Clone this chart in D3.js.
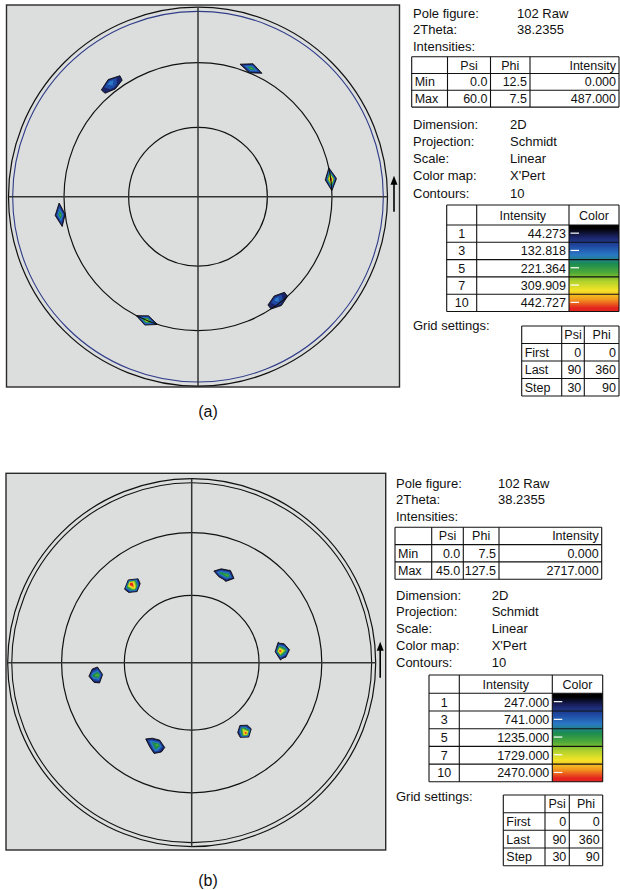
<!DOCTYPE html>
<html>
<head>
<meta charset="utf-8">
<script src="https://cdn.jsdelivr.net/npm/d3@7"></script>
<style>
  body { margin: 0; background: #fff; }
  svg text { font-family: "Liberation Sans", Arial, sans-serif; font-size: 13px; fill: #111; }
  svg text.cell { font-size: 12.5px; }
</style>
</head>
<body>
<svg id="chart" width="620" height="890"></svg>
<script>
// ---------------------------------------------------------------
// Measured pole-figure nodes (psi, phi in degrees, counts)
// ---------------------------------------------------------------
const nodesA_psi = [60, 57.5, 62.5, 60, 60,
                    62.5, 60, 65, 62.5, 62.5,
                    65, 62.5, 65, 65, 62.5, 62.5,
                    62.5, 60, 65, 62.5, 62.5,
                    60, 57.5, 62.5, 60, 60,
                    57.5, 60, 57.5, 57.5, 60, 60];
const nodesA_phi = [7.5, 7.5, 7.5, 2.5, 12.5,
                    67.5, 67.5, 67.5, 62.5, 72.5,
                    127.5, 127.5, 122.5, 132.5, 122.5, 132.5,
                    187.5, 187.5, 187.5, 182.5, 192.5,
                    247.5, 247.5, 247.5, 242.5, 252.5,
                    307.5, 307.5, 302.5, 312.5, 302.5, 312.5];
const nodesA_int = [487, 50, 50, 40, 40,
                    250, 40, 40, 40, 40,
                    175, 120, 35, 35, 35, 35,
                    250, 45, 45, 40, 40,
                    340, 40, 40, 40, 40,
                    165, 120, 35, 35, 35, 35];

const nodesB_psi = [45, 42.5, 45, 45,
                    42.5, 42.5, 40, 45,
                    40, 42.5, 40, 40,
                    42.5, 45, 42.5, 42.5,
                    40, 42.5, 40, 37.5, 40,
                    40, 37.5];
const nodesB_phi = [127.5, 127.5, 122.5, 132.5,
                    67.5, 72.5, 67.5, 67.5,
                    7.5, 7.5, 2.5, 12.5,
                    187.5, 187.5, 182.5, 192.5,
                    247.5, 247.5, 242.5, 247.5, 252.5,
                    307.5, 307.5];
const nodesB_int = [2717, 2000, 200, 200,
                    1450, 1150, 300, 280,
                    2500, 1400, 300, 300,
                    1500, 1150, 220, 220,
                    1400, 1000, 900, 220, 220,
                    2500, 1500];

// Contour levels (ten equal steps of max/11) and legend rows
const maxA = 487, maxB = 2717;
const levelIds = [1, 2, 3, 4, 5, 6, 7, 8, 9, 10];
const legendRows = [1, 3, 5, 7, 10];
const levelColors = ["#000000", "#1c2468", "#1f4aa4", "#2a78c6", "#1b8c50",
                     "#4eaa38", "#b2d22c", "#f4e428", "#f29a1e", "#e3231e"];

// Text panels
const infoLabels = ["Pole figure:", "2Theta:", "Intensities:"];
const infoValues = ["102 Raw", "38.2355"];
const setupLabels = ["Dimension:", "Projection:", "Scale:", "Color map:", "Contours:"];
const setupValues = ["2D", "Schmidt", "Linear", "X'Pert", "10"];
const extremaHeader = ["", "Psi", "Phi", "Intensity"];
const extremaA = [["Min", "0.0", "12.5", "0.000"], ["Max", "60.0", "7.5", "487.000"]];
const extremaB = [["Min", "0.0", "7.5", "0.000"], ["Max", "45.0", "127.5", "2717.000"]];
const gridHeader = ["", "Psi", "Phi"];
const gridRows = [["First", "0", "0"], ["Last", "90", "360"], ["Step", "30", "90"]];
const gridPsi = [30, 60, 90];
const gridPhi = [0, 90];
const edgePsi = 87.5;

// ---------------------------------------------------------------
const svg = d3.select("#chart");
const defs = svg.append("defs");

const PHI_STEP = 5, PHI_FIRST = -12.5;
const nPsi = 37, nPhi = 78;
const psiOfRow = d3.scaleLinear().domain([0, nPsi - 1]).range([0, 90]);
const phiOfCol = d3.scaleLinear().domain([0, nPhi - 1]).range([PHI_FIRST, PHI_FIRST + (nPhi - 1) * PHI_STEP]);

function buildGrid(psis, phis, vals) {
  const grid = new Float64Array(nPsi * nPhi);
  psis.forEach((p, i) => {
    const row = Math.round(psiOfRow.invert(p));
    const col = Math.round(phiOfCol.invert(phis[i]));
    grid[row * nPhi + col] = vals[i];
  });
  return grid;
}

function drawPoleFigure(g, L, psis, phis, vals, step) {
  // Schmidt (equal-area) projection
  const rad = d3.scaleLinear().domain([0, 1]).range([0, L.R]);
  const rOf = psi => rad(Math.SQRT2 * Math.sin(psi * Math.PI / 360));
  const proj = (psi, phi) => {
    const r = rOf(psi), a = phi * Math.PI / 180;
    return [L.cx + r * Math.cos(a), L.cy - r * Math.sin(a)];
  };

  g.append("rect")
    .attr("x", L.frame[0]).attr("y", L.frame[1])
    .attr("width", L.frame[2] - L.frame[0]).attr("height", L.frame[3] - L.frame[1])
    .attr("fill", "#dcdedd").attr("stroke", "#2a2a2a").attr("stroke-width", 1.4);

  // filled contour bands: area above level k takes the colour of the next level up
  const grid = buildGrid(psis, phis, vals);
  const thresholds = levelIds.map(k => k * step);
  const bands = d3.contours().size([nPhi, nPsi]).thresholds(thresholds)(grid);
  const toPx = ([gx, gy]) => proj(psiOfRow(gy - 0.5), phiOfCol(gx - 0.5));
  const line = d3.line();
  bands.forEach((b, i) => {
    const d = b.coordinates.map(poly => poly.map(ring => line(ring.map(toPx)) + "Z").join("")).join("");
    if (!d) return;
    g.append("path").attr("d", d)
      .attr("fill", levelColors[Math.min(i + 1, levelColors.length - 1)])
      .attr("fill-rule", "evenodd")
      .attr("stroke", i === 0 ? "#000" : "none")
      .attr("stroke-width", 0.8)
      .attr("stroke-linejoin", "round");
  });

  // grid circles
  gridPsi.forEach(p => {
    g.append("circle").attr("cx", L.cx).attr("cy", L.cy).attr("r", rOf(p))
      .attr("fill", "none").attr("stroke", "#111").attr("stroke-width", 1.2);
  });
  g.append("circle").attr("cx", L.cx).attr("cy", L.cy).attr("r", rOf(edgePsi))
    .attr("fill", "none").attr("stroke", L.edgeColor).attr("stroke-width", 1.1);

  // grid axes through the centre
  gridPhi.forEach(ph => {
    const p1 = proj(90, ph), p2 = proj(90, ph + 180);
    g.append("line").attr("x1", p1[0]).attr("y1", p1[1]).attr("x2", p2[0]).attr("y2", p2[1])
      .attr("stroke", "#333").attr("stroke-width", 1.5);
  });

  // orientation arrow
  const ax = L.cx + L.R + L.arrowGap;
  g.append("line").attr("x1", ax).attr("x2", ax).attr("y1", L.cy + 15).attr("y2", L.cy - 14)
    .attr("stroke", "#000").attr("stroke-width", 1.6);
  g.append("path")
    .attr("d", `M${ax},${L.cy - 21}L${ax - 3.5},${L.cy - 12}L${ax + 3.5},${L.cy - 12}Z`)
    .attr("fill", "#000");
}

function drawTable(g, cols, rows, cells, align) {
  const x0 = cols[0], x1 = cols[cols.length - 1], y0 = rows[0], y1 = rows[rows.length - 1];
  rows.forEach(y => g.append("line").attr("x1", x0).attr("x2", x1).attr("y1", y).attr("y2", y)
    .attr("stroke", "#111").attr("stroke-width", 1.1));
  cols.forEach(x => g.append("line").attr("x1", x).attr("x2", x).attr("y1", y0).attr("y2", y1)
    .attr("stroke", "#111").attr("stroke-width", 1.1));
  cells.forEach((row, r) => row.forEach((txt, c) => {
    if (!txt) return;
    const a = align[r === 0 ? 0 : 1][c];
    const yb = (rows[r] + rows[r + 1]) / 2 + 4.5;
    let x, anchor;
    if (a === "c") { x = (cols[c] + cols[c + 1]) / 2; anchor = "middle"; }
    else if (a === "r") { x = cols[c + 1] - 3; anchor = "end"; }
    else { x = cols[c] + 3; anchor = "start"; }
    g.append("text").attr("class", "cell").attr("x", x).attr("y", yb)
      .attr("text-anchor", anchor).text(txt);
  }));
}

function drawPanel(g, T, extrema, step) {
  infoLabels.forEach((t, i) => g.append("text").attr("x", T.x).attr("y", T.infoY[i]).text(t));
  infoValues.forEach((t, i) => g.append("text").attr("x", T.infoX).attr("y", T.infoY[i]).text(t));
  drawTable(g, T.extCols, T.extRows, [extremaHeader, ...extrema],
    [["l", "c", "c", "r"], ["l", "r", "r", "r"]]);
  setupLabels.forEach((t, i) => g.append("text").attr("x", T.x).attr("y", T.setupY[i]).text(t));
  setupValues.forEach((t, i) => g.append("text").attr("x", T.setupX).attr("y", T.setupY[i]).text(t));

  // contour legend with the colour map strip
  const lc = T.legCols, lr = T.legRows;
  const gradId = "grad" + T.id;
  const grad = defs.append("linearGradient").attr("id", gradId)
    .attr("x1", 0).attr("x2", 0).attr("y1", 0).attr("y2", 1);
  const stripPos = d3.scaleLinear().domain([0, levelColors.length - 1]).range([0.04, 0.96]);
  levelColors.forEach((c, i) => grad.append("stop").attr("offset", stripPos(i)).attr("stop-color", c));
  g.append("rect").attr("x", lc[2]).attr("y", lr[1]).attr("width", lc[3] - lc[2])
    .attr("height", lr[lr.length - 1] - lr[1]).attr("fill", `url(#${gradId})`);
  const legendCells = [["", "Intensity", "Color"],
    ...legendRows.map(k => [String(k), (k * step).toFixed(3), ""])];
  drawTable(g, lc, lr, legendCells, [["l", "c", "c"], ["c", "r", "c"]]);
  legendRows.forEach((k, i) => {
    const y = (lr[i + 1] + lr[i + 2]) / 2 - 0.5;
    g.append("line").attr("x1", lc[2] + 1.5).attr("x2", lc[2] + 10).attr("y1", y).attr("y2", y)
      .attr("stroke", "#fff").attr("stroke-width", 1.2);
  });

  g.append("text").attr("x", T.x).attr("y", T.gridLabelY).text("Grid settings:");
  drawTable(g, T.gridCols, T.gridRowsY, [gridHeader, ...gridRows],
    [["l", "c", "c"], ["l", "r", "r"]]);
}

// ---------------------------------------------------------------
const gA = svg.append("g");
drawPoleFigure(gA, { frame: [6.5, 5, 399.5, 387], cx: 198, cy: 196.7, R: 189.5,
  edgeColor: "#2f3c88", arrowGap: 6.5 }, nodesA_psi, nodesA_phi, nodesA_int, maxA / 11);
drawPanel(gA, {
  id: "A", x: 413, infoX: 517, setupX: 510,
  infoY: [17.5, 34, 50.5],
  extCols: [411.7, 447.5, 490.5, 530, 619], extRows: [56.7, 73.5, 90.3, 107.1],
  setupY: [128.5, 145.8, 163, 180.3, 197.5],
  legCols: [446.7, 476.7, 569, 619], legRows: [205, 225, 242.3, 259.6, 276.9, 294.2, 311.5],
  gridLabelY: 330,
  gridCols: [521.7, 561.7, 584.3, 619], gridRowsY: [326, 343.5, 361, 378.5, 396]
}, extremaA, maxA / 11);

const gB = svg.append("g");
drawPoleFigure(gB, { frame: [6, 473.3, 385.7, 850], cx: 191.7, cy: 662.7, R: 184,
  edgeColor: "#111", arrowGap: 4.5 }, nodesB_psi, nodesB_phi, nodesB_int, maxB / 11);
drawPanel(gB, {
  id: "B", x: 396, infoX: 498, setupX: 491.7,
  infoY: [487.5, 504, 520.5],
  extCols: [395, 431.7, 463.3, 499, 601.7], extRows: [527.3, 544.6, 561.9, 579.2],
  setupY: [599.5, 616.3, 633, 649.8, 666.5],
  legCols: [429, 459.3, 552.3, 602.7], legRows: [675, 693.3, 711, 728.7, 746.4, 764.1, 781.8],
  gridLabelY: 801,
  gridCols: [503.3, 545, 569.3, 602.7], gridRowsY: [795, 812.7, 830.3, 848, 865.7]
}, extremaB, maxB / 11);

// sub-figure captions
svg.append("text").attr("x", 208).attr("y", 417).attr("text-anchor", "middle")
  .style("font-size", "16px").text("(a)");
svg.append("text").attr("x", 208).attr("y", 886).attr("text-anchor", "middle")
  .style("font-size", "16px").text("(b)");
</script>
</body>
</html>
